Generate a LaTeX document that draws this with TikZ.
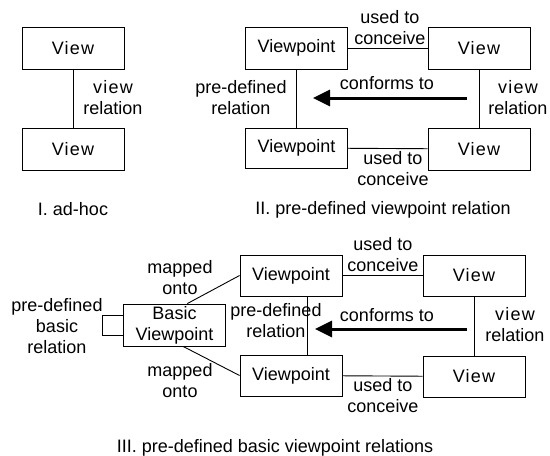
\documentclass[tikz,border=0pt]{standalone}
\usepackage{fontspec}
\setmainfont{Liberation Sans}
\newfontfamily\spaced[LetterSpace=7]{Liberation Sans}
\usetikzlibrary{arrows.meta}

\begin{document}
\begin{tikzpicture}[x=1pt,y=-1pt,line width=.9pt,font=\fontsize{18}{21}\selectfont,
   box/.style={draw,minimum width=102pt,minimum height=42pt,inner sep=0pt,align=center},
   lbl/.style={align=center,inner sep=0pt},
   conforms/.style={line width=3pt,-{Triangle[length=17pt,width=16pt]}}]
   \useasboundingbox (0,0) rectangle (550,456);
   % I. ad-hoc
   \node[box] (vwA) at (73,48) {\spaced View};
   \node[box] (vwB) at (73,149) {\spaced View};
   \draw (vwA) -- (vwB);
   \node[lbl] (relA) at (113,98) {\spaced view\\relation};
   \node[lbl] (capA) at (73,209) {I. ad-hoc};
   % II. pre-defined viewpoint relation
   \node[box] (vpC) at (296.5,48) {Viewpoint};
   \node[box] (vwC) at (479,48) {\spaced View};
   \node[box,minimum height=40pt] (vpD) at (296.5,148) {Viewpoint};
   \node[box] (vwD) at (479,149) {\spaced View};
   \draw (vpC) -- (vwC);
   \draw (vpD) -- (vwD);
   \draw (vpC) -- (vpD);
   \draw (vwC) -- (vwD);
   \coordinate (confC) at (467,98);
   \coordinate (confD) at (313,98);
   \draw[conforms] (confC) -- (confD);
   \node[lbl] (useC) at (390,28) {used to\\conceive};
   \node[lbl] (useD) at (393,169) {used to\\conceive};
   \node[lbl] (confL) at (387,83) {conforms to};
   \node[lbl] (preC) at (241,98) {pre-defined\\relation};
   \node[lbl] (relC) at (518,98) {\spaced view\\relation};
   \node[lbl] (capC) at (383,210) {II. pre-defined viewpoint relation};
   % III. pre-defined basic viewpoint relations
   \node[box] (basic) at (174.5,325) {Basic\\Viewpoint};
   \node[box,minimum height=41pt] (vpE) at (291,275.5) {Viewpoint};
   \node[box,minimum height=41pt] (vpF) at (291,375.5) {Viewpoint};
   \node[box,minimum height=41pt] (vwE) at (474,275.5) {\spaced View};
   \node[box,minimum height=41pt] (vwF) at (474,376.5) {\spaced View};
   \draw (basic.59) -- (vpE.west);
   \draw (basic.-68) -- (vpF.west);
   \draw ([yshift=10pt]basic.west) -- ++(-21,0) |- ([yshift=-10pt]basic.west);
   \draw ([xshift=16pt]vpE.south) -- ([xshift=16pt]vpF.north);
   \draw (vwE) -- (vwF);
   \draw (vpE) -- (vwE);
   \draw (vpF) -- (vwF);
   \coordinate (confE) at (467,329);
   \coordinate (confF) at (315,329);
   \draw[conforms] (confE) -- (confF);
   \node[lbl] (mapE) at (180,278) {mapped\\onto};
   \node[lbl] (mapF) at (180,381) {mapped\\onto};
   \node[lbl] (preB) at (57,326) {pre-defined\\basic\\relation};
   \node[lbl] (preE) at (276,321) {pre-defined\\relation};
   \node[lbl] (useE) at (383,255) {used to\\conceive};
   \node[lbl] (useF) at (383,396) {used to\\conceive};
   \node[lbl] (confM) at (387,315) {conforms to};
   \node[lbl] (relE) at (515,325) {\spaced view\\relation};
   \node[lbl] (capE) at (275,448) {III. pre-defined basic viewpoint relations};
\end{tikzpicture}
\end{document}
